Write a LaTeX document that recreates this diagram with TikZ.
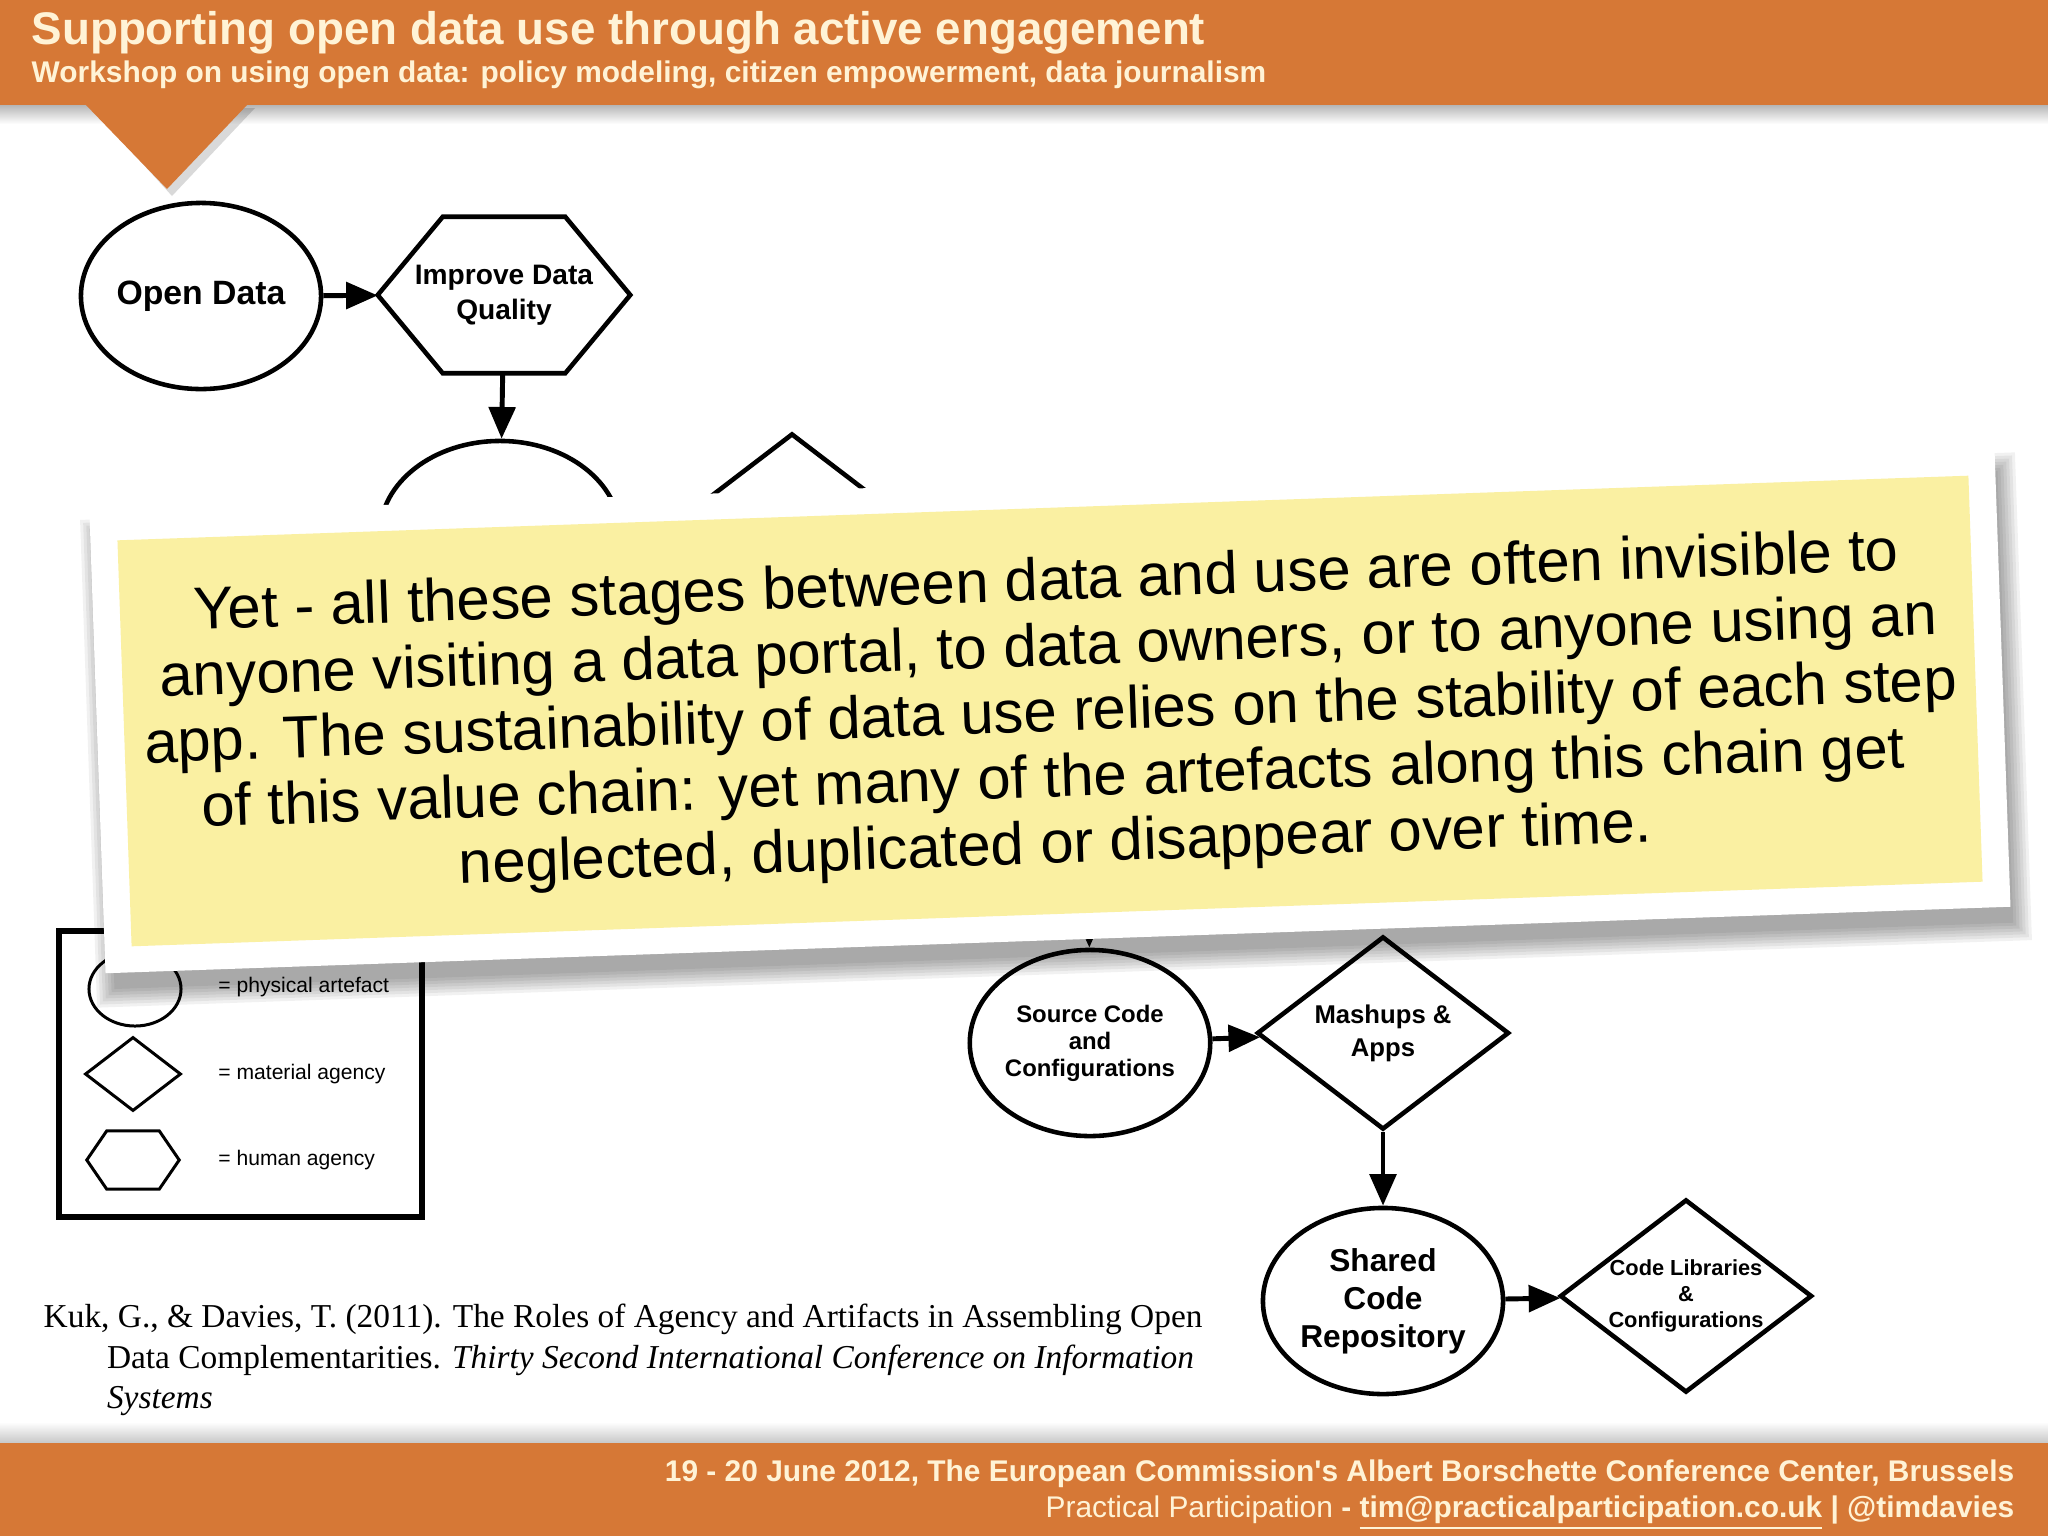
\documentclass[tikz,border=0pt]{standalone}
\usepackage{fontspec}
\setmainfont{Liberation Serif}
\setsansfont{Liberation Sans}
\usetikzlibrary{arrows.meta,positioning,shapes.geometric}

\definecolor{slideorange}{RGB}{214,120,54}
\definecolor{slidecream}{RGB}{255,243,214}
\definecolor{noteyellow}{RGB}{250,240,162}

\newcommand{\setfs}[2]{\fontsize{#1}{#2}\selectfont}

\tikzset{
  artefact/.style={ellipse, draw, line width=1.3pt, fill=white,
    minimum width=2.4cm, minimum height=1.86cm, inner sep=0pt, align=center},
  matagency/.style={diamond, draw, line width=1.3pt, fill=white, shape aspect=1.3,
    minimum width=2.52cm, minimum height=1.93cm, inner sep=0pt, align=center},
  hexagon/.style 2 args={inner sep=0pt, align=center,
    append after command={\pgfextra{\draw[line width=#2]
      (\tikzlastnode.west) -- ([xshift=#1]\tikzlastnode.north west)
      -- ([xshift=-#1]\tikzlastnode.north east) -- (\tikzlastnode.east)
      -- ([xshift=-#1]\tikzlastnode.south east)
      -- ([xshift=#1]\tikzlastnode.south west) -- cycle;}}},
  humagency/.style={hexagon={0.65cm}{1.3pt}, minimum width=2.51cm, minimum height=1.55cm},
  flow/.style={-{Triangle[length=9pt,width=7.5pt]}, line width=1.4pt},
  keyshape/.style={draw, line width=0.85pt, inner sep=0pt},
  keytext/.style={anchor=west, font=\sffamily\mdseries\setfs{6}{7}},
  bannertext/.style={text=slidecream, inner sep=0pt},
}

\begin{document}
\begin{tikzpicture}[x=0.01cm, y=-0.01cm, font=\sffamily\bfseries]
  \useasboundingbox (0,0) rectangle (2048,1536);
  \fill[white] (0,0) rectangle (2048,1536);

  % header band
  \shade[top color=black!30, bottom color=white] (0,104) rectangle (2048,124);
  \fill[black, opacity=0.15] (92,108) -- (255,108) -- (172,196) -- cycle;
  \fill[slideorange] (0,0) rectangle (2048,105);
  \fill[slideorange] (85,104) -- (248,104) -- (167,189) -- cycle;
  \node[bannertext, anchor=base west, font=\sffamily\bfseries\setfs{13}{15}] (title)
    at (31,44) {Supporting open data use through active engagement};
  \node[bannertext, anchor=base west, font=\sffamily\bfseries\setfs{8.5}{10}] (subtitle)
    at (31,82) {Workshop on using open data: policy modeling, citizen empowerment, data journalism};

  % value chain, upper part
  \node[artefact, font=\sffamily\bfseries\setfs{9.6}{11}] (open) at (201,296) {Open Data};
  \node[humagency, font=\sffamily\bfseries\setfs{8}{10}] (quality) at (504,295) {Improve Data\\Quality};
  \node[artefact] (clean) at (500,534) {};
  \node[matagency] (api) at (792,530) {};
  \draw[flow] (open) -- (quality);
  \draw[flow] (quality) -- (clean);

  % value chain, lower part
  \coordinate (above) at (1089,900);
  \node[artefact, font=\sffamily\bfseries\setfs{6.8}{7.7}] (source) at (1090,1043)
    {Source Code\\and\\Configurations};
  \node[matagency, font=\sffamily\bfseries\setfs{7.3}{9.4}] (apps) at (1383,1033) {Mashups \&\\Apps};
  \node[artefact, font=\sffamily\bfseries\setfs{9}{10.8}] (repo) at (1383,1301)
    {Shared\\Code\\Repository};
  \node[matagency, font=\sffamily\bfseries\setfs{6.2}{7.4}] (libs) at (1686,1296)
    {Code Libraries\\\&\\Configurations};
  \draw[flow] (above) -- (source);
  \draw[flow] (source) -- (apps);
  \draw[flow] (apps) -- (repo);
  \draw[flow] (repo) -- (libs);

  % legend
  \draw[line width=1.7pt] (59,931) rectangle (422,1217);
  \node[keyshape, ellipse, minimum width=0.92cm, minimum height=0.74cm] (keyart) at (135,989) {};
  \node[keyshape, diamond, minimum width=0.96cm, minimum height=0.74cm] (keymat) at (133,1074) {};
  \node[hexagon={0.2cm}{0.85pt}, minimum width=0.91cm, minimum height=0.57cm] (keyhum) at (133,1160) {};
  \node[keytext] (keyarttext) at (206,987) {= physical artefact};
  \node[keytext] (keymattext) at (206,1074) {= material agency};
  \node[keytext] (keyhumtext) at (206,1160) {= human agency};

  % reference
  \node[anchor=north west, align=left, inner sep=0pt,
    font=\rmfamily\mdseries\setfs{9.5}{11.6}] (ref) at (43,1303)
    {Kuk, G., \& Davies, T. (2011). The Roles of Agency and Artifacts in Assembling Open\\
     \hspace*{18pt}Data Complementarities. \textit{Thirty Second International Conference on Information}\\
     \hspace*{18pt}\textit{Systems}};

  % sticky note over the chart
  \begin{scope}[shift={(1056,730)}, rotate=2]
    \foreach \s in {0,3,...,18}
      \fill[black, opacity=0.055] (-950-\s,-226-\s) rectangle (950+\s,226+\s);
  \end{scope}
  \node[fill=white, rotate=2, minimum width=19.05cm, minimum height=4.58cm, inner sep=0pt]
    (card) at (1050,711) {};
  \node[fill=noteyellow, rotate=2, minimum width=18.51cm, minimum height=4.06cm, inner sep=0pt]
    (note) at (card.center) {};
  \node[rotate=2, align=center, font=\sffamily\mdseries\setfs{17}{18.7}] (message) at (1051,716)
    {Yet - all these stages between data and use are often invisible to\\
     anyone visiting a data portal, to data owners, or to anyone using an\\
     app. The sustainability of data use relies on the stability of each step\\
     of this value chain: yet many of the artefacts along this chain get\\
     neglected, duplicated or disappear over time.};

  % footer band
  \shade[top color=white, bottom color=black!22] (0,1422) rectangle (2048,1443);
  \fill[slideorange] (0,1443) rectangle (2048,1536);
  \node[bannertext, anchor=base east, font=\sffamily\bfseries\setfs{8.5}{10}] (venue) at (2015,1481)
    {19 - 20 June 2012, The European Commission\textquotesingle s Albert Borschette Conference Center, Brussels};
  \node[bannertext, anchor=base east, font=\sffamily\mdseries\setfs{8.5}{10}] (contact) at (2015,1517)
    {Practical Participation \textbf{- \underline{tim@practicalparticipation.co.uk} | @timdavies}};
\end{tikzpicture}
\end{document}
